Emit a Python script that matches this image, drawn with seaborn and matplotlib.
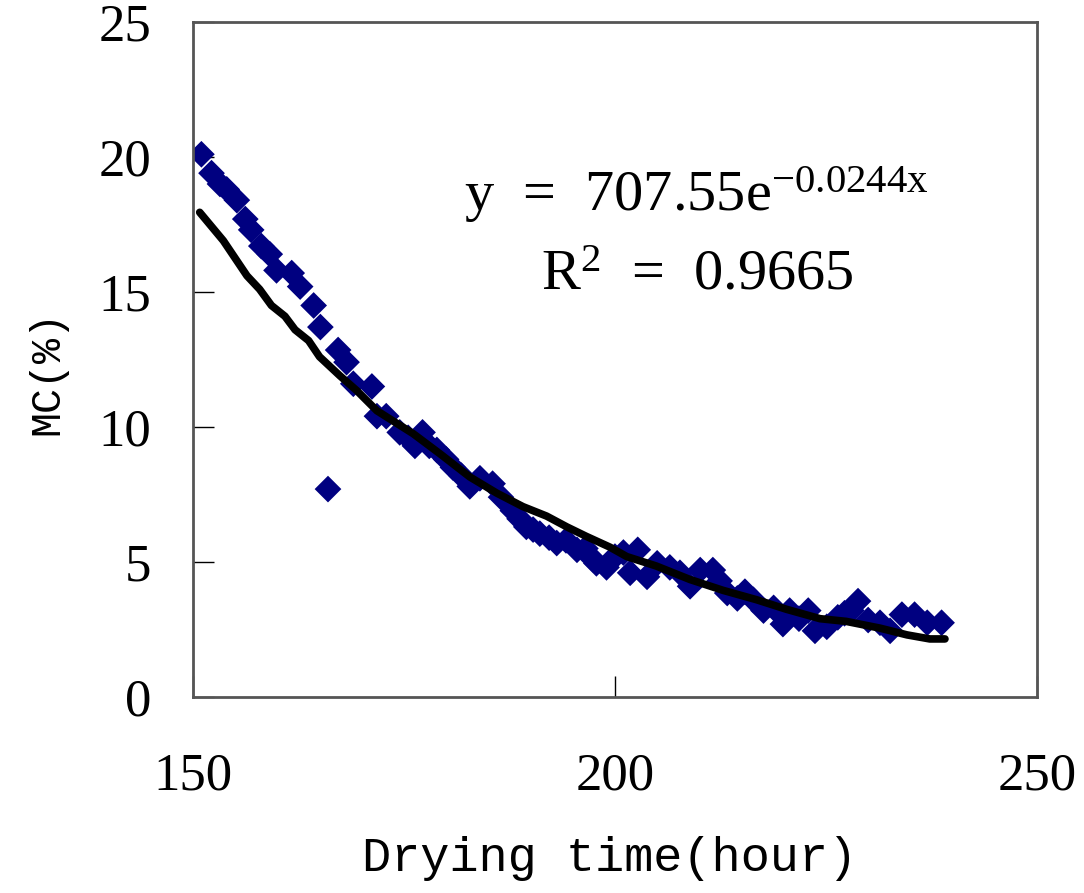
import numpy as np
import pandas as pd
import seaborn as sns
import matplotlib.pyplot as plt

drying_time = [151.0, 152.2, 153.2, 154.0, 155.2, 156.2, 156.9, 158.1, 159.1, 159.9,
               161.7, 162.7, 164.3, 165.1, 166.0, 167.2, 168.2, 169.0, 171.2, 171.8,
               172.9, 174.5, 175.5, 176.3, 177.2, 178.0, 178.9, 180.0, 180.8, 181.8,
               182.8, 184.0, 185.5, 186.5, 187.9, 188.7, 189.5, 190.3, 191.1, 192.2,
               193.1, 194.2, 195.5, 196.5, 197.4, 197.8, 199.0, 200.0, 201.0, 201.8,
               202.7, 203.8, 205.0, 206.5, 207.7, 208.9, 210.1, 211.6, 212.4, 213.3,
               214.5, 215.4, 216.4, 217.6, 218.8, 219.9, 220.7, 221.8, 222.9, 223.7,
               225.1, 226.4, 227.2, 228.0, 228.8, 230.0, 231.4, 232.6, 234.0, 235.5,
               237.0, 238.7]
mc = [20.1, 19.4, 19.0, 18.8, 18.4, 17.7, 17.3, 16.7, 16.4, 15.8,
      15.7, 15.2, 14.5, 13.7, 7.7, 12.85, 12.4, 11.6, 11.5, 10.4,
      10.4, 9.8, 9.6, 9.3, 9.8, 9.3, 9.15, 8.8, 8.5, 8.2,
      7.8, 8.1, 7.9, 7.4, 6.9, 6.6, 6.3, 6.2, 6.05, 5.9,
      5.7, 5.8, 5.45, 5.5, 5.1, 4.95, 4.8, 5.2, 5.35, 4.6,
      5.45, 4.45, 4.95, 4.8, 4.6, 4.1, 4.7, 4.7, 4.3, 3.85,
      3.65, 3.9, 3.6, 3.2, 3.3, 2.7, 3.2, 2.9, 3.2, 2.45,
      2.6, 2.95, 3.1, 3.2, 3.55, 2.85, 2.75, 2.45, 3.05, 3.05,
      2.75, 2.75]

# exponential trend line as drawn
fit_time = [150.8, 153.6, 156.4, 157.9, 159.3, 160.9, 162.1, 163.7, 165.0, 167.4,
            169.4, 171.8, 176.1, 179.3, 182.8, 186.0, 189.1, 191.9, 194.3, 196.6,
            199.4, 201.4, 204.9, 208.9, 212.8, 216.8, 220.3, 224.3, 227.4, 231.4,
            234.6, 237.3, 239.1]
fit_mc = [17.95, 16.9, 15.6, 15.1, 14.5, 14.1, 13.6, 13.2, 12.6, 11.9,
          11.35, 10.6, 9.75, 9.0, 8.15, 7.55, 7.05, 6.7, 6.3, 5.95,
          5.55, 5.2, 4.85, 4.35, 3.95, 3.6, 3.25, 2.9, 2.8, 2.55,
          2.3, 2.15, 2.15]

eq_text = r"y  =  707.55e$^{-0.0244x}$"
r2_text = r"R$^{2}$  =  0.9665"

df = pd.DataFrame({'time': drying_time, 'mc': mc})
fit = pd.DataFrame({'time': fit_time, 'mc': fit_mc})

sns.set_style('white')
plt.rcParams['font.family'] = ['Liberation Serif', 'DejaVu Serif']
plt.rcParams['mathtext.fontset'] = 'custom'
plt.rcParams['mathtext.rm'] = 'Liberation Serif'
plt.rcParams['mathtext.it'] = 'Liberation Serif'
plt.rcParams['text.color'] = 'black'
plt.rcParams['axes.labelcolor'] = 'black'
plt.rcParams['xtick.color'] = 'black'
plt.rcParams['ytick.color'] = 'black'

fig = plt.figure(figsize=(10.84, 8.93), dpi=100)
ax = fig.add_axes([0.178, 0.2195, 0.7786, 0.7559])

sns.scatterplot(data=df, x='time', y='mc', marker='D', s=185, color='#000080',
                edgecolor='none', linewidth=0, ax=ax, zorder=2)
sns.lineplot(data=fit, x='time', y='mc', color='black', linewidth=5.5,
             sort=False, estimator=None, ax=ax, zorder=3)

ax.set_xlim(150, 250)
ax.set_ylim(0, 25)
ax.set_xticks([150, 200, 250])
ax.set_yticks([0, 5, 10, 15, 20, 25])
ax.tick_params(axis='both', direction='in', length=15, width=1, color='black',
               labelsize=38, left=True, bottom=True, labelcolor='black')
ax.tick_params(axis='y', pad=30)
ax.tick_params(axis='x', pad=40)

for s in ax.spines.values():
    s.set_color('#555555')
    s.set_linewidth(2)

ax.set_xlabel('Drying time(hour)', fontsize=35, family=['Liberation Mono', 'DejaVu Sans Mono'])
ax.set_ylabel('MC(%)', fontsize=30, family=['Liberation Mono', 'DejaVu Sans Mono'])
ax.xaxis.set_label_coords(0.494, -0.24)
ax.xaxis.label.set_va('center')
ax.yaxis.set_label_coords(-0.172, 0.481)
ax.yaxis.label.set_va('center')

ax.text(209.7, 18.6, eq_text, fontsize=42, ha='center', va='center')
ax.text(209.7, 15.6, r2_text, fontsize=42, ha='center', va='center')

fig.savefig('out.png', dpi=100)
